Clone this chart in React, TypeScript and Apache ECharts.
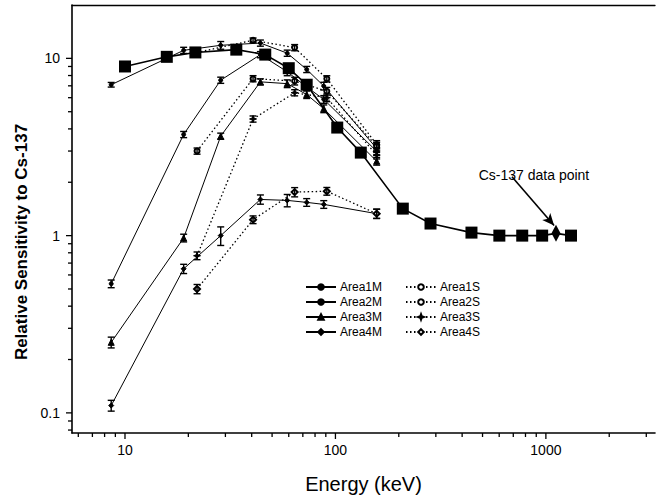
import React, { useEffect, useRef } from 'react';
import * as echarts from 'echarts';

// Large black squares (reference curve)
const squareEnergy = [10, 15.8, 21.6, 33.8, 46.4, 60, 73, 102, 132, 209, 283, 443, 601, 772, 960, 1117, 1316];
const squareValue = [9.0, 10.2, 10.8, 11.2, 10.5, 8.8, 7.1, 4.07, 2.94, 1.42, 1.17, 1.04, 1.0, 1.0, 1.0, 1.03, 1.0];
const csIndex = 15;

// "M" series (solid lines)
const mEnergy = [8.6, 19, 28.5, 44, 59, 73, 88, 157];
const area1M = [7.1, 11.1, 11.85, 12.2, 10.7, 8.66, 6.98, 3.1];
const area2M = [0.535, 3.72, 7.53, 10.5, 8.4, 6.9, 5.87, 2.99];
const area3M = [0.25, 0.97, 3.64, 7.37, 7.2, 6.25, 5.2, 2.63];
const area4M = [0.11, 0.65, 1.0, 1.6, 1.58, 1.54, 1.5, 1.33];
const err1M = [0.03, 0.04, 0.05, 0.04, 0.04, 0.04, 0.05, 0.05];
const err2M = [0.05, 0.04, 0.04, 0.04, 0.05, 0.05, 0.05, 0.05];
const err3M = [0.07, 0.05, 0.04, 0.04, 0.05, 0.05, 0.05, 0.05];
const err4M = [0.07, 0.06, 0.12, 0.06, 0.08, 0.05, 0.05, 0.06];

// "S" series (dotted lines)
const sEnergy = [22, 40.6, 64, 91, 157];
const area1S = [10.8, 12.65, 11.5, 7.67, 3.27];
const area2S = [3.0, 7.68, 7.45, 6.53, 3.2];
const area3S = [0.77, 4.55, 6.4, 6.0, 2.85];
const area4S = [0.5, 1.23, 1.76, 1.78, 1.33];
const err1S = [0.04, 0.03, 0.04, 0.04, 0.05];
const err2S = [0.04, 0.04, 0.05, 0.05, 0.05];
const err3S = [0.05, 0.04, 0.04, 0.05, 0.05];
const err4S = [0.06, 0.05, 0.06, 0.05, 0.06];

// axis ticks
const xMajorTicks = [10, 100, 1000];
const xMinorTicks = [6, 7, 8, 9, 20, 30, 40, 50, 60, 70, 80, 90, 200, 300, 400, 500, 600, 700, 800, 900, 2000, 3000];
const yMajorTicks = [0.1, 1, 10];
const yMinorTicks = [0.08, 0.09, 0.2, 0.3, 0.4, 0.5, 0.6, 0.7, 0.8, 0.9, 2, 3, 4, 5, 6, 7, 8, 9];

const X_MIN = 5.6;
const X_MAX = 3300;
const Y_MIN = 0.077;
const Y_MAX = 20;

const FONT = '"Liberation Sans", Arial, Helvetica, sans-serif';
const star4 = 'path://M0,-5 L1.3,-1.3 L5,0 L1.3,1.3 L0,5 L-1.3,1.3 L-5,0 L-1.3,-1.3 Z';

type Def = { name: string; xs: number[]; ys: number[]; err: number[]; symbol: string; size: number; dotted: boolean };

const defs: Def[] = [
  { name: 'Area1M', xs: mEnergy, ys: area1M, err: err1M, symbol: 'circle', size: 4, dotted: false },
  { name: 'Area2M', xs: mEnergy, ys: area2M, err: err2M, symbol: 'circle', size: 4, dotted: false },
  { name: 'Area3M', xs: mEnergy, ys: area3M, err: err3M, symbol: 'triangle', size: 6, dotted: false },
  { name: 'Area4M', xs: mEnergy, ys: area4M, err: err4M, symbol: 'diamond', size: 5, dotted: false },
  { name: 'Area1S', xs: sEnergy, ys: area1S, err: err1S, symbol: 'emptyCircle', size: 5, dotted: true },
  { name: 'Area2S', xs: sEnergy, ys: area2S, err: err2S, symbol: 'emptyCircle', size: 5, dotted: true },
  { name: 'Area3S', xs: sEnergy, ys: area3S, err: err3S, symbol: star4, size: 7, dotted: true },
  { name: 'Area4S', xs: sEnergy, ys: area4S, err: err4S, symbol: 'emptyDiamond', size: 6, dotted: true },
];

function logLabel(v: number) {
  const l = Math.log10(v);
  return Math.abs(l - Math.round(l)) < 1e-6 ? String(+v.toPrecision(3)) : '';
}

export default function App() {
  const ref = useRef<HTMLDivElement>(null);
  useEffect(() => {
    if (!ref.current) return;
    const chart = echarts.init(ref.current, undefined, { renderer: 'svg' });

    const lineSeries = defs.map((d) => ({
      name: d.name,
      type: 'line',
      data: d.xs.map((x, i) => [x, d.ys[i]]),
      symbol: d.symbol,
      symbolSize: d.size,
      showSymbol: true,
      lineStyle: { color: '#000', width: d.dotted ? 1.3 : 1, type: d.dotted ? [1.5, 2.5] : 'solid' },
      itemStyle: { color: '#000', borderColor: '#000', borderWidth: 1 },
      z: 4,
    }));

    const errData: number[][] = [];
    defs.forEach((d) => d.xs.forEach((x, i) => errData.push([x, d.ys[i] * (1 - d.err[i]), d.ys[i] * (1 + d.err[i])])));

    const errSeries = {
      name: 'errors',
      type: 'custom',
      data: errData,
      encode: { x: 0, y: [1, 2] },
      z: 5,
      renderItem: (params: any, api: any) => {
        const x = api.value(0);
        const p1 = api.coord([x, api.value(1)]);
        const p2 = api.coord([x, api.value(2)]);
        const w = 3.5;
        const st = { stroke: '#000', lineWidth: 1.4 };
        return {
          type: 'group',
          children: [
            { type: 'line', shape: { x1: p1[0], y1: p1[1], x2: p2[0], y2: p2[1] }, style: st },
            { type: 'line', shape: { x1: p1[0] - w, y1: p1[1], x2: p1[0] + w, y2: p1[1] }, style: st },
            { type: 'line', shape: { x1: p2[0] - w, y1: p2[1], x2: p2[0] + w, y2: p2[1] }, style: st },
          ],
        };
      },
    };

    const xTickData = [...xMajorTicks.map((v) => [v, Y_MIN, 1]), ...xMinorTicks.map((v) => [v, Y_MIN, 0])];
    const yTickData = [...yMajorTicks.map((v) => [X_MIN, v, 1]), ...yMinorTicks.map((v) => [X_MIN, v, 0])];

    const xTickSeries = {
      name: 'xticks',
      type: 'custom',
      data: xTickData,
      encode: { x: 0, y: 1 },
      silent: true,
      renderItem: (params: any, api: any) => {
        const p = api.coord([api.value(0), api.value(1)]);
        const len = api.value(2) ? 6 : 4;
        return { type: 'line', shape: { x1: p[0], y1: p[1], x2: p[0], y2: p[1] + len }, style: { stroke: '#000', lineWidth: 1.3 } };
      },
    };
    const yTickSeries = {
      name: 'yticks',
      type: 'custom',
      data: yTickData,
      encode: { x: 0, y: 1 },
      silent: true,
      renderItem: (params: any, api: any) => {
        const p = api.coord([api.value(0), api.value(1)]);
        const len = api.value(2) ? 6 : 4;
        return { type: 'line', shape: { x1: p[0], y1: p[1], x2: p[0] - len, y2: p[1] }, style: { stroke: '#000', lineWidth: 1.3 } };
      },
    };

    const squareSeries = {
      name: 'reference',
      type: 'line',
      data: squareEnergy.map((x, i) =>
        i === csIndex
          ? { value: [x, squareValue[i]], symbol: 'diamond', symbolSize: [9, 17] }
          : { value: [x, squareValue[i]] }
      ),
      symbol: 'rect',
      symbolSize: 12,
      lineStyle: { color: '#000', width: 1.6 },
      itemStyle: { color: '#000' },
      z: 6,
      markLine: {
        silent: true,
        symbol: ['none', 'arrow'],
        symbolSize: [8, 12],
        label: { show: false },
        lineStyle: { color: '#000', width: 1.6, type: 'solid' },
        data: [[{ coord: [690, 2.15] }, { coord: [1094, 1.14] }]],
      },
    };

    const option: any = {
      animation: false,
      backgroundColor: '#fff',
      textStyle: { fontFamily: FONT, color: '#000' },
      grid: { left: 72, right: 1, top: 5, bottom: 68, containLabel: false },
      xAxis: [
        {
          type: 'log',
          logBase: 10,
          min: X_MIN,
          max: X_MAX,
          axisLine: { show: true, lineStyle: { color: '#000', width: 1.6 } },
          axisTick: { show: false },
          splitLine: { show: false },
          axisLabel: { color: '#000', fontSize: 14, fontFamily: FONT, margin: 10, formatter: logLabel },
          name: 'Energy (keV)',
          nameLocation: 'middle',
          nameGap: 41,
          nameTextStyle: { color: '#000', fontSize: 20, fontFamily: FONT },
        },
        {
          type: 'log',
          logBase: 10,
          min: X_MIN,
          max: X_MAX,
          position: 'top',
          axisLine: { show: true, lineStyle: { color: '#000', width: 1.3 } },
          axisTick: { show: false },
          axisLabel: { show: false },
          splitLine: { show: false },
        },
      ],
      yAxis: {
        type: 'log',
        logBase: 10,
        min: Y_MIN,
        max: Y_MAX,
        axisLine: { show: true, lineStyle: { color: '#000', width: 1.6 } },
        axisTick: { show: false },
        splitLine: { show: false },
        axisLabel: { color: '#000', fontSize: 14, fontFamily: FONT, margin: 12, formatter: logLabel },
      },
      legend: [
        {
          data: ['Area1M', 'Area2M', 'Area3M', 'Area4M'],
          orient: 'vertical',
          left: 305,
          top: 280,
          padding: 0,
          itemGap: 1,
          itemWidth: 30,
          itemHeight: 7,
          selectedMode: false,
          textStyle: { color: '#000', fontSize: 12, fontFamily: FONT, lineHeight: 14, padding: [0, 0, 0, -1] },
        },
        {
          data: ['Area1S', 'Area2S', 'Area3S', 'Area4S'],
          orient: 'vertical',
          left: 405,
          top: 280,
          padding: 0,
          itemGap: 1,
          itemWidth: 30,
          itemHeight: 7,
          selectedMode: false,
          textStyle: { color: '#000', fontSize: 12, fontFamily: FONT, lineHeight: 14, padding: [0, 0, 0, -1] },
        },
      ],
      graphic: [
        {
          type: 'text',
          x: 21,
          y: 242,
          rotation: Math.PI / 2,
          style: {
            text: 'Relative Sensitivity to Cs-137',
            fontSize: 17,
            fontWeight: 'bold',
            fontFamily: FONT,
            fill: '#000',
            align: 'center',
            verticalAlign: 'middle',
          },
        },
        {
          type: 'text',
          x: 534,
          y: 175,
          style: {
            text: 'Cs-137 data point',
            fontSize: 14,
            fontFamily: FONT,
            fill: '#000',
            align: 'center',
            verticalAlign: 'middle',
          },
        },
      ],
      series: [...lineSeries, errSeries, squareSeries, xTickSeries, yTickSeries],
    };

    chart.setOption(option);
    return () => chart.dispose();
  }, []);

  return <div ref={ref} style={{ position: 'fixed', left: 0, top: 0, width: 658, height: 501, background: '#fff' }} />;
}
